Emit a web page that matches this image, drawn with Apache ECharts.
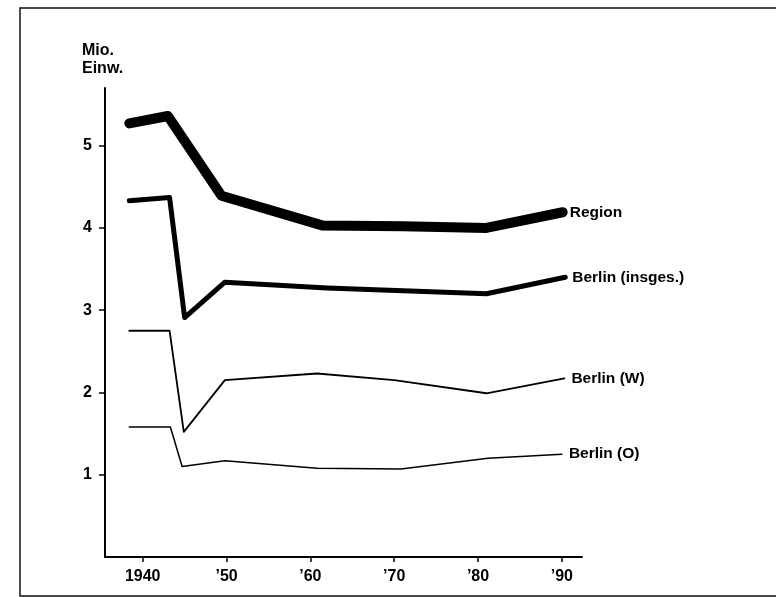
<!DOCTYPE html>
<html>
<head>
<meta charset="UTF-8">
<title>Bevölkerung Berlin und Region</title>
<script src="https://cdn.jsdelivr.net/npm/echarts@6/dist/echarts.min.js"></script>
<style>
  html, body { margin: 0; padding: 0; background: #fff; }
  #chart { width: 776px; height: 597px; }
</style>
</head>
<body>
<div id="chart"></div>
<script>
// Werte (Mio. Einwohner)
var regionYears = [1938.4, 1943.0, 1949.4, 1961.4, 1971, 1981.0, 1990.1];
var regionVals  = [5.27, 5.36, 4.39, 4.03, 4.02, 4.00, 4.19];

var gesamtYears = [1938.4, 1943.2, 1945.0, 1949.8, 1962, 1981.0, 1990.4];
var gesamtVals  = [4.33, 4.37, 2.91, 3.34, 3.27, 3.20, 3.40];

var westYears = [1938.4, 1943.2, 1944.9, 1949.8, 1960.8, 1970, 1981.0, 1990.3];
var westVals  = [2.75, 2.75, 1.52, 2.15, 2.23, 2.15, 1.99, 2.17];

var ostYears = [1938.4, 1943.3, 1944.7, 1949.8, 1960.8, 1970.8, 1981.2, 1990.0];
var ostVals  = [1.58, 1.58, 1.10, 1.17, 1.08, 1.07, 1.20, 1.25];

var xTicks = [1940, 1950, 1960, 1970, 1980, 1990];
var xTickLabels = ['1940', '\u201950', '\u201960', '\u201970', '\u201980', '\u201990'];
var yTicks = [1, 2, 3, 4, 5];

function pairs(xs, ys) {
  return xs.map(function (x, i) { return [x, ys[i]]; });
}

var font = '"Liberation Sans", Arial, sans-serif';

function lineSeries(name, xs, ys, width) {
  return {
    name: name,
    type: 'line',
    data: pairs(xs, ys),
    symbol: 'none',
    silent: true,
    lineStyle: { color: '#000', width: width, cap: 'round', join: 'round' },
    endLabel: {
      show: true,
      formatter: name,
      color: '#000',
      fontFamily: font,
      fontSize: 15.5,
      fontWeight: 'bold',
      distance: 7
    }
  };
}

var chart = echarts.init(document.getElementById('chart'));
chart.setOption({
  backgroundColor: '#fff',
  animation: false,
  grid: { left: 105, right: 194, top: 88, bottom: 40 },
  graphic: [{
    type: 'rect',
    shape: { x: 20, y: 8, width: 800, height: 588 },
    style: { fill: 'none', stroke: '#111', lineWidth: 1.5 },
    z: -1
  }, {
    type: 'text',
    left: 82, top: 42,
    style: {
      text: 'Mio.\nEinw.',
      fill: '#000',
      font: 'bold 16px ' + font,
      lineHeight: 18
    }
  }],
  xAxis: {
    type: 'value',
    min: 1935.5,
    max: 1992.4,
    splitLine: { show: false },
    axisLine: { lineStyle: { color: '#000', width: 2 } },
    axisTick: { customValues: xTicks, length: 5, lineStyle: { color: '#000', width: 1.5 } },
    axisLabel: {
      customValues: xTicks,
      formatter: function (v) { return xTickLabels[xTicks.indexOf(v)]; },
      color: '#000',
      fontFamily: font,
      fontSize: 16,
      fontWeight: 'bold',
      margin: 12
    }
  },
  yAxis: {
    type: 'value',
    min: 0,
    max: 5.7,
    splitLine: { show: false },
    axisLine: { show: true, lineStyle: { color: '#000', width: 2 } },
    axisTick: { show: true, customValues: yTicks, length: 6, lineStyle: { color: '#000', width: 1.5 } },
    axisLabel: {
      customValues: yTicks,
      color: '#000',
      fontFamily: font,
      fontSize: 16,
      fontWeight: 'bold',
      margin: 13
    }
  },
  series: [
    lineSeries('Region', regionYears, regionVals, 10),
    lineSeries('Berlin (insges.)', gesamtYears, gesamtVals, 5),
    lineSeries('Berlin (W)', westYears, westVals, 1.8),
    lineSeries('Berlin (O)', ostYears, ostVals, 1.5)
  ]
});
</script>
</body>
</html>
